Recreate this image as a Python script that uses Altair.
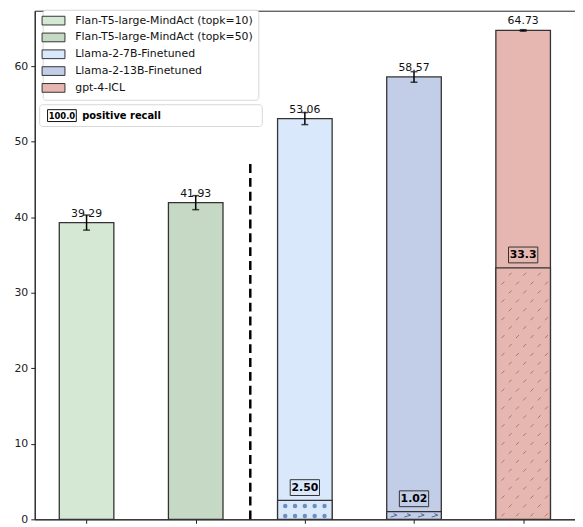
import altair as alt
import pandas as pd

# ---- data ----
models = [
    "Flan-T5-large-MindAct (topk=10)",
    "Flan-T5-large-MindAct (topk=50)",
    "Llama-2-7B-Finetuned",
    "Llama-2-13B-Finetuned",
    "gpt-4-ICL",
]
scores = [39.29, 41.93, 53.06, 58.57, 64.73]
errors = [1.0, 0.93, 0.8, 0.7, 0.1]
colors = ["#d5e8d4", "#c5d9c4", "#dae8fc", "#c2cde8", "#e6b6b0"]

recall_models = ["Llama-2-7B-Finetuned", "Llama-2-13B-Finetuned", "gpt-4-ICL"]
recall_values = [2.50, 1.02, 33.3]
recall_text = ["2.50", "1.02", "33.3"]
recall_hatch = ["dots", "zigzag", "slash"]

divider_pos = [1.5]
divider_top = [47.5]
y_ticks = [0, 10, 20, 30, 40, 50, 60]

FONT = "DejaVu Sans"

df = pd.DataFrame({"model": models, "idx": list(range(len(models))),
                   "score": scores, "err": errors})
df["lo"] = df["score"] - df["err"]
df["hi"] = df["score"] + df["err"]
df["label"] = [f"{v:.2f}" for v in scores]

rec = pd.DataFrame({"model": recall_models,
                    "idx": [models.index(m) for m in recall_models],
                    "recall": recall_values, "label": recall_text,
                    "hatch": recall_hatch})

div = pd.DataFrame({"x": divider_pos, "top": divider_top, "bottom": [0]})

xscale = alt.Scale(domain=[-0.475, 4.475], nice=False, zero=False)
yscale = alt.Scale(domain=[0, 67.34], nice=False, zero=True)
cscale = alt.Scale(domain=models, range=colors)

color = alt.Color(
    "model:N",
    scale=cscale,
    legend=alt.Legend(
        title=None, orient="none", legendX=8, legendY=-1,
        symbolType="M-2.1,-0.8H2.1V0.8H-2.1Z", symbolSize=121,
        symbolStrokeColor="#333", symbolStrokeWidth=1, symbolOpacity=1,
        labelFont=FONT, labelFontSize=11, labelColor="#111", labelLimit=0,
        labelOffset=16, rowPadding=3, padding=5,
        fillColor="white", strokeColor="#d8d8d8", cornerRadius=3,
    ),
)

xaxis = alt.Axis(values=[0, 1, 2, 3, 4], labels=False, grid=False,
                 tickSize=4, tickColor="#222", domainColor="#222")
yaxis = alt.Axis(values=y_ticks, grid=False, tickSize=4,
                 labelFont=FONT, labelFontSize=11, labelColor="#222",
                 tickColor="#222", domainColor="#222", labelPadding=3)


def X(field, **kw):
    return alt.X(field, scale=xscale, title=None, **kw)


def Y(field, **kw):
    return alt.Y(field, scale=yscale, title=None, **kw)


bars = alt.Chart(df).transform_calculate(
    x0="datum.idx - 0.25", x1="datum.idx + 0.25", base="0"
).mark_bar(stroke="#333", strokeWidth=1.3).encode(
    x=X("x0:Q", axis=xaxis),
    x2="x1:Q",
    y=Y("score:Q", axis=yaxis),
    y2="base:Q",
    color=color,
)

inner = alt.Chart(rec).transform_calculate(
    x0="datum.idx - 0.25", x1="datum.idx + 0.25", base="0"
).mark_bar(stroke="#333", strokeWidth=1.3).encode(
    x=X("x0:Q"),
    x2="x1:Q",
    y=Y("recall:Q"),
    y2="base:Q",
    color=alt.Color("model:N", scale=cscale, legend=None),
)

# ---- hatch textures inside the recall bars (generated by Vega transforms) ----
def hatch_grid(kind, ncols, nrows):
    return alt.Chart(rec).transform_filter(
        alt.datum.hatch == kind
    ).transform_calculate(
        c=f"sequence(0, {ncols})"
    ).transform_flatten(["c"]).transform_calculate(
        r=f"sequence(0, {nrows})"
    ).transform_flatten(["r"])


dots = hatch_grid("dots", 5, 4).transform_calculate(
    hx="datum.idx + (datum.c - 2) * 0.09",
    hy="0.45 + datum.r * 1.31",
).transform_filter("datum.hy < datum.recall - 0.2").mark_point(
    shape="circle", filled=True, size=20, color="#6c8ebf", opacity=1
).encode(x=X("hx:Q"), y=Y("hy:Q"))

zigzag = hatch_grid("zigzag", 4, 1).transform_calculate(
    hx="datum.idx - 0.185 + datum.c * 0.125",
    hy="datum.recall / 2",
).mark_point(
    shape="M-1,0.5L1,-0.1L-0.1,-0.6", filled=False, size=40,
    color="#55648f", strokeWidth=1, opacity=1
).encode(x=X("hx:Q"), y=Y("hy:Q"))

slashes = hatch_grid("slash", 4, 30).transform_calculate(
    hx="datum.idx - 0.185 + datum.c * 0.133 + (datum.r % 2) * 0.066",
    hy="0.6 + datum.r * 1.18",
).transform_filter(
    "datum.hy < datum.recall - 0.4 && datum.hx < datum.idx + 0.23"
).mark_point(
    shape="M-1,1L1,-1", filled=False, size=9,
    color="#a4605c", strokeWidth=0.8, opacity=1
).encode(x=X("hx:Q"), y=Y("hy:Q"))

err_rule = alt.Chart(df).mark_rule(color="black", strokeWidth=1.5).encode(
    x=X("idx:Q"), y=Y("lo:Q"), y2="hi:Q",
)
cap_lo = alt.Chart(df).mark_tick(color="black", orient="horizontal", size=7, thickness=1.5).encode(
    x=X("idx:Q"), y=Y("lo:Q"),
)
cap_hi = alt.Chart(df).mark_tick(color="black", orient="horizontal", size=7, thickness=1.5).encode(
    x=X("idx:Q"), y=Y("hi:Q"),
)

value_text = alt.Chart(df).mark_text(
    baseline="bottom", dy=-4, font=FONT, fontSize=11, color="#111"
).encode(
    x=X("idx:Q"), y=Y("score:Q"), text="label:N",
)

rec_box = alt.Chart(rec).mark_point(
    shape="M-1.85,-1H1.85V1H-1.85Z", size=256, filled=True, opacity=1,
    stroke="#333", strokeWidth=1, yOffset=-13,
).encode(
    x=X("idx:Q"), y=Y("recall:Q"),
    color=alt.Color("model:N", scale=cscale, legend=None),
)
rec_text = alt.Chart(rec).mark_text(
    baseline="middle", yOffset=-13, font=FONT, fontSize=11, fontWeight="bold", color="black"
).encode(
    x=X("idx:Q"), y=Y("recall:Q"), text="label:N",
)

divider = alt.Chart(div).mark_rule(color="black", strokeWidth=2.5, strokeDash=[9, 5]).encode(
    x=X("x:Q"), y=Y("bottom:Q"), y2="top:Q",
)

# second legend box: "100.0 positive recall"
note = pd.DataFrame({"sample": ["100.0"], "name": ["positive recall"]})
note_bg = alt.Chart(note).mark_rect(
    fill="white", stroke="#d8d8d8", strokeWidth=1, cornerRadius=3
).encode(x=alt.value(5), x2=alt.value(230), y=alt.value(95), y2=alt.value(117))
note_box = alt.Chart(note).mark_point(
    shape="M-2.42,-1H2.42V1H-2.42Z", size=144, filled=True, fill="white",
    stroke="#111", strokeWidth=1, opacity=1,
).encode(x=alt.value(27.5), y=alt.value(106))
note_sample = alt.Chart(note).mark_text(
    font=FONT, fontSize=8.5, fontWeight="bold", color="black", baseline="middle"
).encode(x=alt.value(27.5), y=alt.value(106.5), text="sample:N")
note_name = alt.Chart(note).mark_text(
    font=FONT, fontSize=10, fontWeight="bold", color="black", align="left", baseline="middle"
).encode(x=alt.value(48), y=alt.value(106), text="name:N")

chart = alt.layer(
    bars, inner, dots, zigzag, slashes, err_rule, cap_lo, cap_hi, value_text,
    rec_box, rec_text, divider, note_bg, note_box, note_sample, note_name,
).properties(
    width=546, height=514,
    padding={"left": 27, "top": 0, "right": 0, "bottom": 5},
    autosize=alt.AutoSizeParams(type="none"),
).configure(
    font=FONT
).configure_view(
    stroke="#222", strokeWidth=1
)

chart.save("out.html", embed_options={"renderer": "svg", "actions": False})
